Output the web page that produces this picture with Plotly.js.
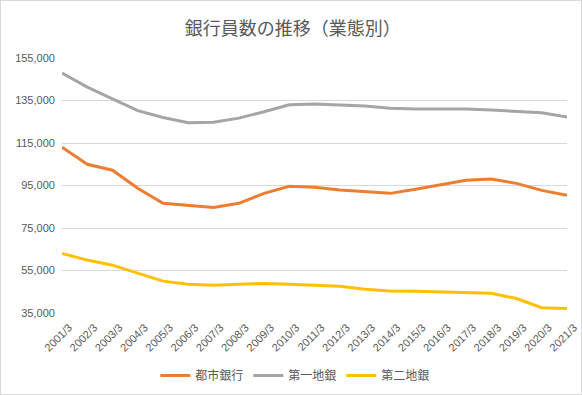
<!DOCTYPE html>
<html>
<head>
<meta charset="utf-8">
<script src="https://cdn.plot.ly/plotly-3.0.1.min.js"></script>
<style>
html,body{margin:0;padding:0;background:#fff;}
#chart{width:580px;height:393px;border:1px solid #D9D9D9;}
</style>
</head>
<body>
<div id="chart"></div>
<script>
const years = ["2001/3","2002/3","2003/3","2004/3","2005/3","2006/3","2007/3","2008/3","2009/3","2010/3","2011/3","2012/3","2013/3","2014/3","2015/3","2016/3","2017/3","2018/3","2019/3","2020/3","2021/3"];
const cityBanks = [113000,105000,102200,93700,86600,85700,84700,86600,91300,94600,94200,92900,92000,91300,93200,95200,97500,98000,96000,92700,90400];
const regionalBanks1 = [147900,141300,135800,130200,127000,124500,124800,126700,129700,133000,133400,133000,132400,131400,131000,131000,131000,130500,130000,129200,127200];
const regionalBanks2 = [63000,59900,57500,53900,50000,48500,48100,48500,48900,48500,48100,47600,46200,45400,45200,44900,44800,44300,41800,37500,37100];

const fontCJK = '"Noto Sans CJK JP", "Liberation Sans", sans-serif';
const mk = (name, y, color) => ({
  type: 'scatter', mode: 'lines', name: name, x: years, y: y,
  line: {color: color, width: 3}
});
const data = [
  mk('都市銀行', cityBanks, '#ED7D31'),
  mk('第一地銀', regionalBanks1, '#A5A5A5'),
  mk('第二地銀', regionalBanks2, '#FFC000')
];
const layout = {
  width: 580, height: 393,
  margin: {l: 61, r: 14, t: 57, b: 81, autoexpand: false},
  paper_bgcolor: '#fff', plot_bgcolor: '#fff',
  title: {text: '銀行員数の推移（業態別）', font: {family: fontCJK, size: 18, color: '#595959'}, x: 0.503, xanchor: 'center', y: 0.93, yanchor: 'middle'},
  showlegend: true,
  legend: {orientation: 'h', x: 0.462, xanchor: 'center', y: -0.245, yanchor: 'middle', font: {family: fontCJK, size: 12, color: '#595959'}, itemwidth: 30, traceorder: 'normal'},
  xaxis: {type: 'category', automargin: false, tickangle: -45, showgrid: false, zeroline: false, showline: false, ticks: '', ticklabelstandoff: 5, ticklabelshift: 7, tickfont: {family: 'Liberation Sans, sans-serif', size: 11, color: '#595959'}},
  yaxis: {range: [35000, 155000], automargin: false, dtick: 20000, tick0: 35000, tickformat: ',d', showgrid: true, gridcolor: '#D9D9D9', gridwidth: 1, zeroline: false, showline: false, ticks: '', ticksuffix: '  ', tickfont: {family: 'Liberation Sans, sans-serif', size: 11, color: '#595959'}}
};
Plotly.newPlot('chart', data, layout, {displayModeBar: false, staticPlot: true});
</script>
</body>
</html>
